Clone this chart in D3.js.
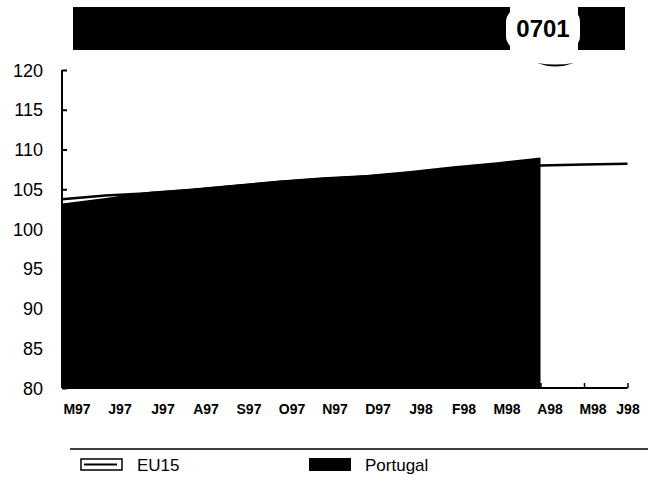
<!DOCTYPE html>
<html>
<head>
<meta charset="utf-8">
<script src="https://cdn.jsdelivr.net/npm/d3@7"></script>
<style>
  body { margin: 0; background: #fff; }
  text { font-family: "Liberation Sans", Arial, sans-serif; }
</style>
</head>
<body>
<div id="chart"></div>
<script>
var width = 656, height = 481;

// data
var months = ["M97", "J97", "J97", "A97", "S97", "O97", "N97", "D97", "J98", "F98", "M98", "A98", "M98", "J98"];
var eu15 = [103.75, 104.2, 104.5, 104.9, 105.4, 105.9, 106.3, 106.6, 107.0, 107.4, 107.8, 108.0, 108.1, 108.2];
var portugal = [103.2, 103.9, 104.7, 105.1, 105.6, 106.1, 106.5, 106.8, 107.3, 107.9, 108.4, 109.0];
var yTicks = [80, 85, 90, 95, 100, 105, 110, 115, 120];
var titleCode = "0701";

var svg = d3.select('#chart')
  .append('svg')
  .attr('width', width)
  .attr('height', height);

var x = d3.scaleLinear().domain([0, months.length - 1]).range([62, 627.5]);
var y = d3.scaleLinear().domain([80, 120]).range([388, 70]);

// title block (blacked out bar with code)
svg.append('rect').attr('x', 73).attr('y', 7).attr('width', 437).attr('height', 43).attr('fill', '#000');
svg.append('rect').attr('x', 578).attr('y', 7).attr('width', 47).attr('height', 43).attr('fill', '#000');
svg.append('rect').attr('x', 506).attr('y', 8).attr('width', 74).attr('height', 42)
  .attr('rx', 14).attr('fill', '#fff');
svg.append('text')
  .attr('x', 543).attr('y', 37)
  .attr('text-anchor', 'middle')
  .style('font-size', '24px').style('font-weight', 'bold')
  .text(titleCode);
svg.append('path')
  .attr('d', 'M537,63 Q555,70 574,63 Q555,66 537,63 Z')
  .attr('fill', '#000');

// EU15 line, drawn under the Portugal area
var line = d3.line()
  .x(function(d, i) { return x(i); })
  .y(function(d) { return y(d); });

svg.append('path')
  .datum(eu15)
  .attr('d', line)
  .attr('fill', 'none')
  .attr('stroke', '#000')
  .attr('stroke-width', 2.5);

// Portugal area
var area = d3.area()
  .x(function(d, i) { return x(i); })
  .y0(y(80))
  .y1(function(d) { return y(d); });

svg.append('path')
  .datum(portugal)
  .attr('d', area)
  .attr('fill', '#000');

// y axis
var yAxis = d3.axisRight(y).tickValues(yTicks).tickSize(5).tickFormat('');
var gy = svg.append('g').attr('transform', 'translate(62,0)').call(yAxis);
gy.select('.domain').attr('stroke-width', 2).attr('d', 'M0,' + y(80) + 'V' + y(120));
gy.selectAll('.tick line').attr('stroke-width', 2);

svg.selectAll('.ylab')
  .data(yTicks)
  .enter().append('text')
  .attr('class', 'ylab')
  .attr('x', 43)
  .attr('y', function(d) { return y(d) + 6.5; })
  .attr('text-anchor', 'end')
  .style('font-size', '18px')
  .text(function(d) { return d; });

// x axis
var xAxis = d3.axisTop(x).tickValues(d3.range(months.length)).tickSize(5).tickFormat('');
var gx = svg.append('g').attr('transform', 'translate(0,' + y(80) + ')').call(xAxis);
gx.select('.domain').attr('stroke-width', 2).attr('d', 'M62,0H627.5');
gx.selectAll('.tick line').attr('stroke-width', 1.5);

var xLab = d3.scalePoint().domain(d3.range(months.length)).range([77, 636]);
svg.selectAll('.xlab')
  .data(months)
  .enter().append('text')
  .attr('class', 'xlab')
  .attr('x', function(d, i) { return Math.min(xLab(i), 628); })
  .attr('y', 414)
  .attr('text-anchor', 'middle')
  .style('font-size', '14px')
  .style('font-weight', 'bold')
  .text(function(d) { return d; });

// legend
svg.append('line').attr('x1', 70).attr('x2', 648).attr('y1', 449).attr('y2', 449)
  .attr('stroke', '#000').attr('stroke-width', 1.5);

svg.append('rect').attr('x', 81).attr('y', 459).attr('width', 41).attr('height', 11)
  .attr('fill', '#fff').attr('stroke', '#000').attr('stroke-width', 1.5);
svg.append('line').attr('x1', 84).attr('x2', 117).attr('y1', 464.5).attr('y2', 464.5)
  .attr('stroke', '#000').attr('stroke-width', 2);
svg.append('text').attr('x', 137).attr('y', 471).style('font-size', '17px').text('EU15');

svg.append('rect').attr('x', 309).attr('y', 458).attr('width', 42).attr('height', 13).attr('fill', '#000');
svg.append('text').attr('x', 365).attr('y', 471).style('font-size', '17px').text('Portugal');
</script>
</body>
</html>
